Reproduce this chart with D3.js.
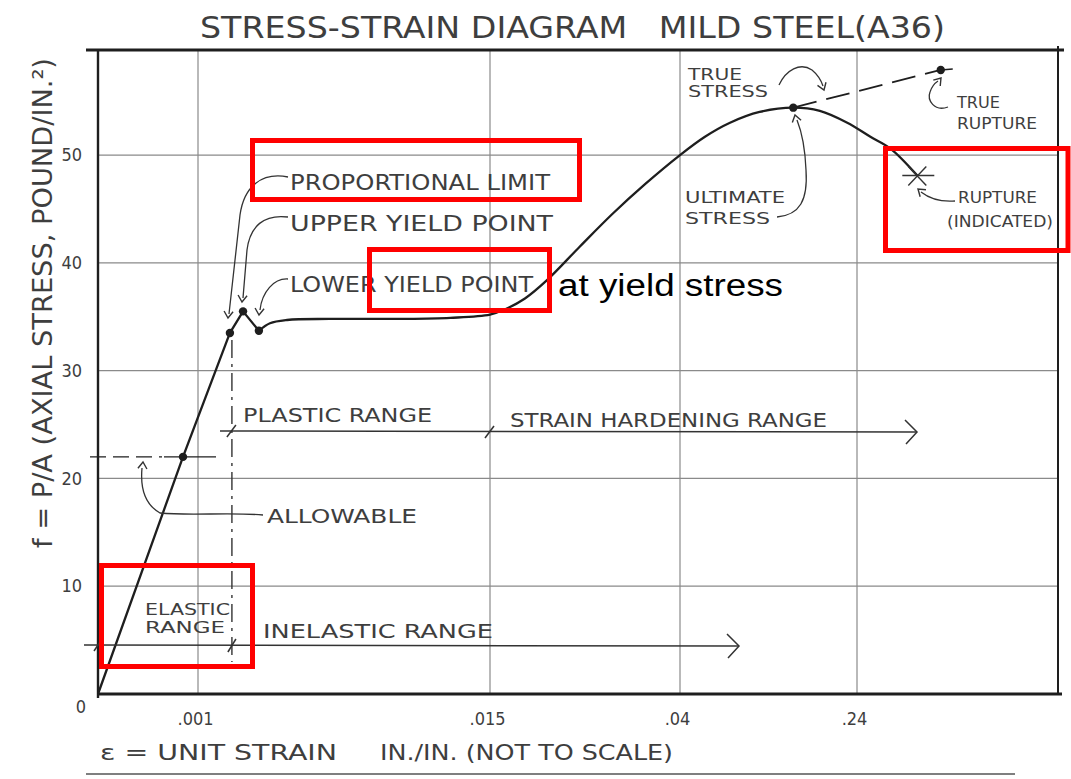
<!DOCTYPE html>
<html>
<head>
<meta charset="utf-8">
<script src="https://cdn.jsdelivr.net/npm/d3@7"></script>
<style>
  html, body { margin: 0; padding: 0; background: #fff; }
  svg { display: block; }
  .hand { font-family: "DejaVu Sans Condensed", "Liberation Sans Narrow", "DejaVu Sans", sans-serif; fill: #3e3e3e; }
  .note { font-family: "Liberation Sans", Arial, sans-serif; fill: #000; }
</style>
</head>
<body>
<svg id="chart" width="1071" height="779"></svg>
<script>
// ---- Data -------------------------------------------------------------
// Strain axis is "not to scale": each labelled strain gets its own gridline slot.
const strainBreaks = [0, 0.001, 0.015, 0.04, 0.24, 0.30];
const xTickValues  = [0.001, 0.015, 0.04, 0.24];
const xTickLabels  = [".001", ".015", ".04", ".24"];
const yTickValues  = [0, 10, 20, 30, 40, 50];
const yGridValues  = [10, 20, 30, 40, 50];

// Engineering stress-strain curve (stress in ksi)
const curveStrain = [0, 0.00085, 0.00253, 0.00316, 0.00392, 0.00445, 0.00527, 0.0073, 0.0107, 0.0131,
                     0.015, 0.017, 0.0196, 0.0225, 0.0268, 0.0312, 0.0354, 0.040, 0.0682, 0.0965,
                     0.130, 0.168, 0.198, 0.229, 0.244, 0.250, 0.258];
const curveStress = [0, 22, 33.5, 35.5, 33.7, 34.4, 34.7, 34.8, 34.8, 34.9,
                     35.2, 35.7, 36.7, 38.4, 41.5, 44.6, 47.3, 50.0, 51.7, 53.0,
                     54.0, 54.4, 54.1, 53.0, 51.7, 50.6, 48.1];
const elasticEnd = 4; // index of the lower yield point (cusp)

// Marked points: allowable, proportional limit, upper yield, lower yield, ultimate
const markStrain = [0.00085, 0.00253, 0.00316, 0.00392, 0.168];
const markStress = [22, 33.5, 35.5, 33.7, 54.4];

// Rupture (indicated) and true stress branch
const ruptureStrain = 0.258, ruptureStress = 48.1;
const trueStrain = [0.168, 0.265];
const trueStress = [54.4, 57.9];
const allowableStress = 22;

// ---- Scales -----------------------------------------------------------
const svg = d3.select("#chart");
const x = d3.scaleLinear().domain(strainBreaks).range([98, 198, 490, 680, 857, 1058]);
const y = d3.scaleLinear().domain([0, 59.75]).range([694, 50]);
const [x0, x1] = [x(0), x(0.30)];
const [yb, yt] = [y(0), y(59.75)];

const ink = "#1e1e1e";
const grid = "#8a8a8a";

// ---- Grid -------------------------------------------------------------
svg.append("g").selectAll("line").data(yGridValues).join("line")
  .attr("x1", x0).attr("x2", x1)
  .attr("y1", d => y(d)).attr("y2", d => y(d))
  .attr("stroke", grid).attr("stroke-width", 1.2);
svg.append("g").selectAll("line").data(xTickValues).join("line")
  .attr("x1", d => x(d)).attr("x2", d => x(d))
  .attr("y1", yt).attr("y2", yb)
  .attr("stroke", grid).attr("stroke-width", 1.2);

// ---- Frame ------------------------------------------------------------
const frame = svg.append("g").attr("stroke", ink).attr("fill", "none");
frame.append("line").attr("x1", 86).attr("x2", 1064).attr("y1", yt).attr("y2", yt).attr("stroke-width", 3);
frame.append("line").attr("x1", x0).attr("x2", x1 + 4).attr("y1", yb).attr("y2", yb).attr("stroke-width", 3);
frame.append("line").attr("x1", x0).attr("x2", x0).attr("y1", yt).attr("y2", yb + 4).attr("stroke-width", 2.4);
frame.append("line").attr("x1", x1).attr("x2", x1).attr("y1", yt - 4).attr("y2", yb).attr("stroke-width", 2);

// ---- Axes -------------------------------------------------------------
const xAxis = svg.append("g").attr("transform", `translate(0,${yb})`)
  .call(d3.axisBottom(x).tickValues(xTickValues)
        .tickFormat((d, i) => xTickLabels[i]).tickSize(0).tickPadding(18));
xAxis.select(".domain").remove();
xAxis.selectAll("text").attr("class", "hand").attr("font-size", 18).attr("dx", -3);

const yAxis = svg.append("g").attr("transform", `translate(${x0},0)`)
  .call(d3.axisLeft(y).tickValues(yTickValues).tickSize(0).tickPadding(16));
yAxis.select(".domain").remove();
yAxis.selectAll("text").attr("class", "hand").attr("font-size", 18)
  .attr("dx", d => d === 0 ? 4 : 0)
  .attr("dy", d => d === 0 ? "1.05em" : "0.32em");

// ---- Text helper ------------------------------------------------------
function label(text, px, baseline, width, size, cls = "hand", rotate = 0) {
  const t = svg.append("text").attr("class", cls)
    .attr("x", px).attr("y", baseline)
    .attr("font-size", size)
    .attr("textLength", width).attr("lengthAdjust", "spacingAndGlyphs")
    .style("white-space", "pre")
    .text(text);
  if (rotate) t.attr("transform", `rotate(${rotate},${px},${baseline})`);
  return t;
}

// Titles
label("STRESS-STRAIN DIAGRAM\u00A0\u00A0 MILD STEEL(A36)", 200, 38, 745, 30);
label("\u03B5 = UNIT STRAIN", 100, 760, 237, 22);
label("IN./IN. (NOT TO SCALE)", 380, 760, 293, 22);
svg.append("line").attr("x1", 86).attr("x2", 1015).attr("y1", 774).attr("y2", 774)
  .attr("stroke", "#555").attr("stroke-width", 1.6);
label("f = P/A (AXIAL STRESS, POUND/IN.\u00B2)", 52, 548, 490, 27, "hand", -90);

// ---- Reference lines ---------------------------------------------------
// allowable stress line
svg.append("line").attr("x1", 90).attr("x2", 162)
  .attr("y1", y(allowableStress)).attr("y2", y(allowableStress))
  .attr("stroke", ink).attr("stroke-width", 1.4).attr("stroke-dasharray", "16,7");
svg.append("line").attr("x1", 164).attr("x2", 216)
  .attr("y1", y(allowableStress)).attr("y2", y(allowableStress))
  .attr("stroke", ink).attr("stroke-width", 1.4);

// proportional limit boundary (dash-dot)
const xProp = x(markStrain[1]) + 2;
svg.append("line").attr("x1", xProp).attr("x2", xProp).attr("y1", 340).attr("y2", 662)
  .attr("stroke", "#333").attr("stroke-width", 1.4).attr("stroke-dasharray", "18,6,3,6");

// ---- Curve ------------------------------------------------------------
const pts = curveStrain.map((s, i) => [x(s), y(curveStress[i])]);
svg.append("path").attr("d", d3.line()(pts.slice(0, elasticEnd + 1)))
  .attr("fill", "none").attr("stroke", ink).attr("stroke-width", 2.3).attr("stroke-linejoin", "round");
svg.append("path").attr("d", d3.line().curve(d3.curveCatmullRom.alpha(0.5))(pts.slice(elasticEnd)))
  .attr("fill", "none").attr("stroke", ink).attr("stroke-width", 2.3);

// true stress (dashed)
const tPts = trueStrain.map((s, i) => [x(s), y(trueStress[i])]);
svg.append("path").attr("d", d3.line()(tPts))
  .attr("fill", "none").attr("stroke", ink).attr("stroke-width", 1.8).attr("stroke-dasharray", "24,10");

// marked points
svg.append("g").selectAll("circle").data(markStrain).join("circle")
  .attr("cx", d => x(d)).attr("cy", (d, i) => y(markStress[i])).attr("r", 4.2).attr("fill", ink);
svg.append("circle").attr("cx", tPts[1][0]).attr("cy", tPts[1][1]).attr("r", 4.2).attr("fill", ink);
svg.append("line").attr("x1", tPts[1][0]).attr("x2", tPts[1][0] + 12)
  .attr("y1", tPts[1][1]).attr("y2", tPts[1][1] - 1).attr("stroke", ink).attr("stroke-width", 1.4);

// rupture cross
const rx = x(ruptureStrain), ry = y(ruptureStress);
const cross = svg.append("g").attr("stroke", "#333").attr("stroke-width", 1.4);
cross.append("line").attr("x1", rx - 15).attr("x2", rx + 17).attr("y1", ry).attr("y2", ry);
cross.append("line").attr("x1", rx - 9).attr("x2", rx + 9).attr("y1", ry - 9).attr("y2", ry + 10);
cross.append("line").attr("x1", rx - 9).attr("x2", rx + 9).attr("y1", ry + 10).attr("y2", ry - 9);

// ---- Leaders with arrow heads -----------------------------------------
function leader(d, tip, angleDeg) {
  svg.append("path").attr("d", d).attr("fill", "none")
    .attr("stroke", "#333").attr("stroke-width", 1.3);
  const a = angleDeg * Math.PI / 180, L = 8, s = 0.6;
  const p1 = [tip[0] - L * Math.cos(a - s), tip[1] - L * Math.sin(a - s)];
  const p2 = [tip[0] - L * Math.cos(a + s), tip[1] - L * Math.sin(a + s)];
  svg.append("path").attr("d", `M${p1}L${tip}L${p2}`).attr("fill", "none")
    .attr("stroke", "#333").attr("stroke-width", 1.4);
}
leader("M288,177 C262,172 244,186 240,215 L229,314", [228, 318], 95);
leader("M288,217 C264,214 250,226 247,250 L243,298", [242, 302], 95);
leader("M288,279 C274,278 262,292 260,310", [259, 315], 95);
leader("M263,515 C230,512 190,516 160,513 C146,505 140,490 142,468", [143, 462], -85);
leader("M779,85 C786,70 800,62 812,70 C818,75 821,80 823,86", [824, 90], 70);
leader("M777,217 C800,215 808,200 806,170 C805,145 801,130 797,120", [795, 115], -105);
leader("M948,107 C934,112 927,100 930,92 C932,86 935,83 938,81", [941, 78], -50);
leader("M955,201 C942,202 930,199 921,192", [918, 189], -140);

// ---- Range arrows -----------------------------------------------------
const rng = svg.append("g").attr("stroke", "#333").attr("fill", "none").attr("stroke-width", 1.5);
rng.append("line").attr("x1", 220).attr("x2", 916).attr("y1", 431).attr("y2", 432);
rng.append("path").attr("d", "M905,420 L917,432 L906,444");
rng.append("path").attr("d", `M${xProp - 5},437 L${xProp + 4},425`);
rng.append("path").attr("d", `M${x(0.015) - 5},438 L${x(0.015) + 4},426`);
rng.append("line").attr("x1", 84).attr("x2", 738).attr("y1", 645).attr("y2", 646);
rng.append("path").attr("d", "M727,634 L739,646 L728,658");
rng.append("path").attr("d", `M${x0 - 4},651 L${x0 + 4},639`);
rng.append("path").attr("d", `M${xProp - 4},652 L${xProp + 4},639`);

// ---- Annotation text --------------------------------------------------
label("PROPORTIONAL LIMIT", 290, 190, 260, 21);
label("UPPER YIELD POINT", 290, 231, 263, 21);
label("LOWER YIELD POINT", 290, 292, 243, 21);
label("TRUE", 688, 80, 54, 15);
label("STRESS", 688, 97, 80, 15);
label("ULTIMATE", 685, 203, 100, 16);
label("STRESS", 685, 224, 85, 16);
label("TRUE", 957, 108, 43, 15);
label("RUPTURE", 957, 129, 80, 15);
label("RUPTURE", 958, 203, 79, 15);
label("(INDICATED)", 947, 227, 106, 15);
label("PLASTIC RANGE", 243, 422, 189, 19);
label("STRAIN HARDENING RANGE", 510, 427, 317, 19);
label("ALLOWABLE", 267, 523, 150, 19);
label("ELASTIC", 145, 615, 85, 15);
label("RANGE", 145, 633, 80, 15);
label("INELASTIC RANGE", 263, 638, 230, 19);

// plain annotation
label("at yield stress", 558, 296, 225, 31, "note");

// ---- Highlight boxes --------------------------------------------------
const boxes = [[252.5, 140.5, 579.5, 199.5], [369.5, 249.5, 549.5, 310.5],
               [885.5, 148.5, 1068, 250.5], [101.5, 565.5, 252.5, 666.5]];
svg.append("g").selectAll("rect").data(boxes).join("rect")
  .attr("x", d => d[0]).attr("y", d => d[1])
  .attr("width", d => d[2] - d[0]).attr("height", d => d[3] - d[1])
  .attr("fill", "none").attr("stroke", "#ff0000").attr("stroke-width", 5);
</script>
</body>
</html>
